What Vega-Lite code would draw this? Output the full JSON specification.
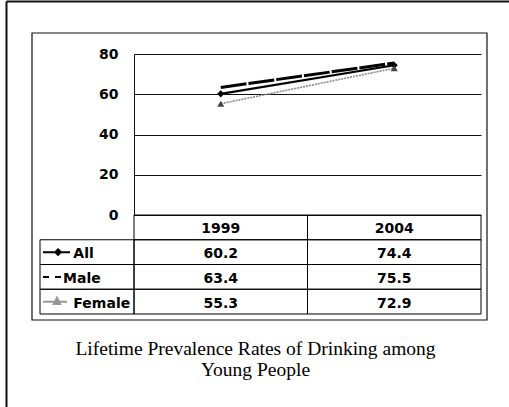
{
  "$schema": "https://vega.github.io/schema/vega-lite/v6.json",
  "width": 503,
  "height": 406,
  "autosize": {"type": "none"},
  "padding": {"left": 6, "top": 1, "right": 0, "bottom": 0},
  "background": "white",
  "config": {"view": {"stroke": null}, "font": "DejaVu Sans"},
  "title": {
    "text": ["Lifetime Prevalence Rates of Drinking among", "Young People"],
    "orient": "bottom",
    "anchor": "middle",
    "frame": "group",
    "offset": -67,
    "dx": -2,
    "font": "Liberation Serif",
    "fontSize": 19.5,
    "fontWeight": "normal",
    "color": "black",
    "lineHeight": 21
  },
  "datasets": {
    "rates": [
      {"series": "All", "year": "1999", "value": 60.2},
      {"series": "All", "year": "2004", "value": 74.4},
      {"series": "Male", "year": "1999", "value": 63.4},
      {"series": "Male", "year": "2004", "value": 75.5},
      {"series": "Female", "year": "1999", "value": 55.3},
      {"series": "Female", "year": "2004", "value": 72.9}
    ],
    "years": [{"year": "1999"}, {"year": "2004"}],
    "groups": [{"series": "All"}, {"series": "Male"}, {"series": "Female"}],
    "frame": [{"part": "page"}]
  },
  "layer": [
    {
      "data": {"name": "frame"},
      "mark": {"type": "text", "text": " ", "opacity": 0},
      "encoding": {
        "x": {"field": "part", "type": "nominal", "axis": {"orient": "top", "labels": false, "ticks": false, "title": null, "grid": false, "domain": true, "domainColor": "#111", "domainWidth": 2}},
        "y": {"field": "part", "type": "nominal", "axis": {"orient": "left", "labels": false, "ticks": false, "title": null, "grid": false, "domain": true, "domainColor": "#111", "domainWidth": 2}}
      }
    },
    {
      "data": {"name": "frame"},
      "mark": {"type": "rect", "filled": false, "stroke": "#111", "strokeWidth": 1.2},
      "encoding": {
        "x": {"field": "part", "type": "nominal", "scale": {"type": "band", "range": [26, 481], "paddingInner": 0, "paddingOuter": 0}, "axis": null},
        "y": {"field": "part", "type": "nominal", "scale": {"type": "band", "range": [32, 319], "paddingInner": 0, "paddingOuter": 0}, "axis": null}
      }
    },
    {
      "data": {"name": "rates"},
      "encoding": {
        "x": {"field": "year", "type": "nominal", "scale": {"type": "band", "domain": ["1999", "2004"], "range": [128, 475], "paddingInner": 0, "paddingOuter": 0}, "axis": null},
        "y": {
          "field": "value", "type": "quantitative",
          "scale": {"domain": [0, 80], "range": [214, 53], "nice": false, "zero": false},
          "axis": {"orient": "left", "offset": -128, "values": [0, 20, 40, 60, 80], "grid": true, "gridColor": "#111", "gridWidth": 1, "gridOpacity": 1, "domain": true, "domainColor": "#111", "domainWidth": 1, "ticks": false, "tickSize": 0, "labelPadding": 16, "labelFont": "DejaVu Sans", "labelFontWeight": "bold", "labelFontSize": 14, "labelColor": "black", "title": null}
        }
      },
      "layer": [
        {"transform": [{"filter": "datum.series === 'Female'"}], "mark": {"type": "line", "stroke": "#8a8a8a", "strokeWidth": 1.6, "strokeDash": [2, 1]}},
        {"transform": [{"filter": "datum.series === 'All'"}], "mark": {"type": "line", "stroke": "black", "strokeWidth": 2.2}},
        {"transform": [{"filter": "datum.series === 'Male'"}], "mark": {"type": "line", "stroke": "black", "strokeWidth": 3, "strokeDash": [26, 2]}},
        {"transform": [{"filter": "datum.series === 'All'"}], "mark": {"type": "point", "shape": "diamond", "filled": true, "fill": "black", "size": 50, "opacity": 1}},
        {"transform": [{"filter": "datum.series === 'Female'"}], "mark": {"type": "point", "shape": "triangle-up", "filled": true, "fill": "#444", "size": 50, "opacity": 1}},
        {
          "data": {"name": "frame"},
          "mark": {"type": "rule", "stroke": "#111", "strokeWidth": 1},
          "encoding": {"x": {"datum": "2004", "bandPosition": 1}, "y": {"datum": 0}, "y2": {"datum": 80}}
        }
      ]
    },
    {
      "encoding": {
        "x": {"field": "year", "type": "nominal", "scale": {"type": "band", "domain": ["1999", "2004"], "range": [128, 475], "paddingInner": 0, "paddingOuter": 0}, "axis": null},
        "y": {"field": "series", "type": "nominal", "scale": {"type": "band", "domain": ["Year", "All", "Male", "Female"], "range": [214, 313], "paddingInner": 0, "paddingOuter": 0}, "axis": null}
      },
      "layer": [
        {"data": {"name": "rates"}, "mark": {"type": "rect", "filled": false, "stroke": "black", "strokeWidth": 1}},
        {"data": {"name": "years"}, "mark": {"type": "rect", "filled": false, "stroke": "black", "strokeWidth": 1}, "encoding": {"y": {"datum": "Year"}}},
        {"data": {"name": "years"}, "mark": {"type": "text", "font": "DejaVu Sans", "fontWeight": "bold", "fontSize": 14, "color": "black", "dy": 2}, "encoding": {"y": {"datum": "Year"}, "text": {"field": "year"}}},
        {"data": {"name": "rates"}, "mark": {"type": "text", "font": "DejaVu Sans", "fontWeight": "bold", "fontSize": 14, "color": "black", "dy": 2}, "encoding": {"text": {"field": "value", "type": "quantitative", "format": ".1f"}}}
      ]
    },
    {
      "data": {"name": "groups"},
      "encoding": {
        "x": {"datum": "legend", "type": "nominal", "scale": {"type": "band", "domain": ["legend"], "range": [34, 128], "paddingInner": 0, "paddingOuter": 0}, "axis": null},
        "y": {"field": "series", "type": "nominal", "scale": {"type": "band", "domain": ["Year", "All", "Male", "Female"], "range": [214, 313], "paddingInner": 0, "paddingOuter": 0}, "axis": null}
      },
      "layer": [
        {"mark": {"type": "rect", "filled": false, "stroke": "black", "strokeWidth": 1}},
        {
          "mark": {"type": "point", "size": 196, "filled": true, "strokeWidth": 2, "opacity": 1},
          "encoding": {
            "x": {"datum": "legend", "type": "nominal", "bandPosition": 0.17},
            "shape": {"field": "series", "type": "nominal", "scale": {"domain": ["All", "Male", "Female"], "range": ["M-1.86,0H2M0.29,-0.4L0.69,0L0.29,0.4L-0.11,0Z", "M-1.86,0H-1M-0.14,0H0.71", "M-1.86,0H1.57M0.14,-0.55L0.6,0.35L-0.32,0.35Z"]}, "legend": null},
            "fill": {"field": "series", "type": "nominal", "scale": {"domain": ["All", "Male", "Female"], "range": ["black", "black", "#555"]}, "legend": null},
            "stroke": {"field": "series", "type": "nominal", "scale": {"domain": ["All", "Male", "Female"], "range": ["black", "black", "#999"]}, "legend": null}
          }
        },
        {
          "transform": [{"filter": "datum.series !== 'Male'"}],
          "mark": {"type": "text", "align": "left", "font": "DejaVu Sans", "fontWeight": "bold", "fontSize": 14, "color": "black", "dy": 2},
          "encoding": {"x": {"datum": "legend", "type": "nominal", "bandPosition": 0.355}, "text": {"field": "series"}}
        },
        {
          "transform": [{"filter": "datum.series === 'Male'"}],
          "mark": {"type": "text", "align": "left", "font": "DejaVu Sans", "fontWeight": "bold", "fontSize": 14, "color": "black", "dy": 2},
          "encoding": {"x": {"datum": "legend", "type": "nominal", "bandPosition": 0.245}, "text": {"field": "series"}}
        }
      ]
    }
  ],
  "resolve": {"scale": {"x": "independent", "y": "independent"}}
}
